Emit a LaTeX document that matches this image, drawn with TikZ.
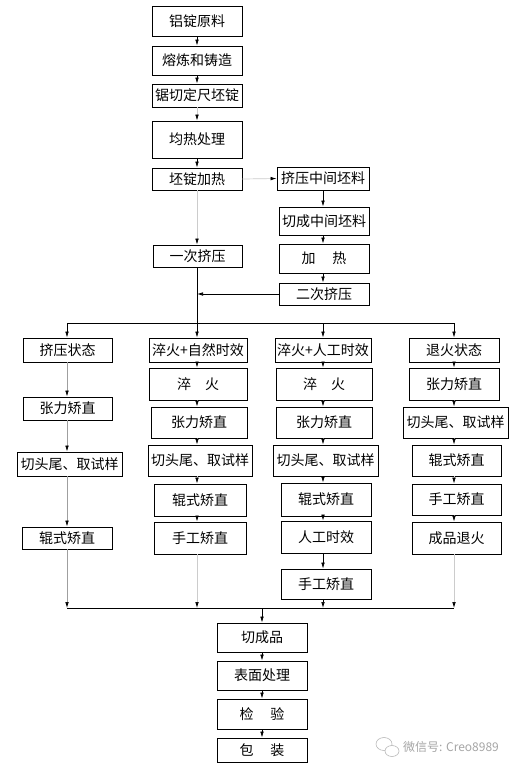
\documentclass[tikz,border=0pt]{standalone}
\usepackage{fontspec}
\setmainfont{Noto Sans CJK SC}
\usetikzlibrary{arrows.meta}
\newcommand\mybox[6]{\node[box, minimum width=#4, minimum height=#5] (#1) at (#2,#3) {#6};}
\begin{document}
\begin{tikzpicture}[x=1pt,y=-1pt,
  box/.style={draw=black, line width=0.8pt, inner sep=0pt, font=\fontsize{14}{16}\selectfont, text=black},
  arr/.style={line width=0.7pt, -{Latex[length=6pt,width=3.6pt,color=black]}},
  ln/.style={line width=0.7pt},
  faint/.style={draw=gray!40},
  mid/.style={draw=gray!75},
]
\fill[white] (0,0) rectangle (522,772);
\useasboundingbox (0,0) rectangle (522,772);
% column x coordinates
\coordinate (X1) at (67,0);
\coordinate (X2) at (197,0);
\coordinate (X3) at (323,0);
\coordinate (X4) at (454,0);
\coordinate (XB) at (262,0);
% top column
\mybox{a}{197}{21}{90}{30}{铝锭原料}
\mybox{b}{197}{60.5}{90}{29}{熔炼和铸造}
\mybox{c}{197}{95.5}{90}{23}{锯切定尺坯锭}
\mybox{d}{197}{139.5}{90}{37}{均热处理}
\mybox{e}{197}{179}{90}{22}{坯锭加热}
\mybox{f}{323}{178.5}{92}{23}{挤压中间坯料}
\mybox{g}{324}{221}{90}{28}{切成中间坯料}
\mybox{h}{324}{258.5}{90}{29}{加\hspace{1.2em}热}
\mybox{i}{324}{294}{90}{22}{二次挤压}
\mybox{j}{197.5}{256}{89}{22}{一次挤压}
% column 1
\mybox{k1}{67.5}{350}{89}{24}{挤压状态}
\mybox{k2}{67.5}{408.5}{89}{23}{张力矫直}
\mybox{k3}{69.5}{464}{105}{24}{切头尾、取试样}
\mybox{k4}{67}{538}{90}{22}{辊式矫直}
% column 2
\mybox{l1}{198}{350}{98}{24}{淬火+自然时效}
\mybox{l2}{198}{384}{98}{32}{淬\hspace{1em}火}
\mybox{l3}{199}{422.5}{96}{31}{张力矫直}
\mybox{l4}{200}{460.5}{104}{31}{切头尾、取试样}
\mybox{l5}{200}{500}{92}{32}{辊式矫直}
\mybox{l6}{200}{538}{92}{32}{手工矫直}
% column 3
\mybox{m1}{323}{350}{96}{24}{淬火+人工时效}
\mybox{m2}{324}{384}{96}{32}{淬\hspace{1em}火}
\mybox{m3}{324}{422.5}{96}{31}{张力矫直}
\mybox{m4}{325.5}{460.5}{105}{31}{切头尾、取试样}
\mybox{m5}{326}{499.5}{90}{33}{辊式矫直}
\mybox{m6}{326}{537}{90}{32}{人工时效}
\mybox{m7}{326}{584}{90}{30}{手工矫直}
% column 4
\mybox{n1}{454}{350}{90}{24}{退火状态}
\mybox{n2}{454}{384}{90}{32}{张力矫直}
\mybox{n3}{455.5}{422.5}{105}{31}{切头尾、取试样}
\mybox{n4}{456.5}{460.5}{89}{31}{辊式矫直}
\mybox{n5}{456.5}{499.5}{89}{31}{手工矫直}
\mybox{n6}{456.5}{538}{89}{32}{成品退火}
% bottom
\mybox{o1}{262}{637.5}{90}{29}{切成品}
\mybox{o2}{262}{675.5}{90}{29}{表面处理}
\mybox{o3}{262}{714}{90}{30}{检\hspace{1.2em}验}
\mybox{o4}{262}{750}{90}{24}{包\hspace{1.2em}装}
% junction coordinates
\coordinate (J2) at (197,294);
\coordinate (BR) at (197,323);
\coordinate (BL) at (67,323);
\coordinate (BRR) at (454,323);
\coordinate (ML) at (67,608);
\coordinate (MR) at (454,608);
% top connectors
\draw[arr] (a.south -| X2) -- (b.north -| X2);
\draw[arr] (b.south -| X2) -- (c.north -| X2);
\draw[arr,faint] (c.south -| X2) -- (d.north -| X2);
\draw[arr] (d.south -| X2) -- (e.north -| X2);
\draw[arr,faint] (e.south -| X2) -- (j.north -| X2);
\draw[arr,faint] (e.east) -- (f.west);
\draw[arr] (f.south -| X3) -- (g.north -| X3);
\draw[arr] (g.south -| X3) -- (h.north -| X3);
\draw[arr] (h.south -| X3) -- (i.north -| X3);
\draw[arr] (i.west) -- (J2);
\draw[ln] (j.south -| X2) -- (BR);
\draw[ln] (BL) -- (BRR);
% branch arrows
\draw[arr] (BL) -- (k1.north -| X1);
\draw[arr] (BR) -- (l1.north -| X2);
\draw[arr] (BR -| X3) -- (m1.north -| X3);
\draw[arr] (BRR) -- (n1.north -| X4);
% column 1
\draw[arr,mid] (k1.south -| X1) -- (k2.north -| X1);
\draw[arr,mid] (k2.south -| X1) -- (k3.north -| X1);
\draw[arr,mid] (k3.south -| X1) -- (k4.north -| X1);
\draw[arr,mid] (k4.south -| X1) -- (ML);
% column 2
\draw[arr,faint] (l1.south -| X2) -- (l2.north -| X2);
\draw[arr,faint] (l2.south -| X2) -- (l3.north -| X2);
\draw[arr,faint] (l3.south -| X2) -- (l4.north -| X2);
\draw[arr,faint] (l4.south -| X2) -- (l5.north -| X2);
\draw[arr,faint] (l5.south -| X2) -- (l6.north -| X2);
\draw[arr,faint] (l6.south -| X2) -- (ML -| X2);
% column 3
\draw[arr,mid] (m1.south -| X3) -- (m2.north -| X3);
\draw[arr,mid] (m2.south -| X3) -- (m3.north -| X3);
\draw[arr,mid] (m3.south -| X3) -- (m4.north -| X3);
\draw[arr] (m4.south -| X3) -- (m5.north -| X3);
\draw[arr] (m5.south -| X3) -- (m6.north -| X3);
\draw[arr] (m6.south -| X3) -- (m7.north -| X3);
\draw[arr] (m7.south -| X3) -- (ML -| X3);
% column 4
\draw[arr,faint] (n1.south -| X4) -- (n2.north -| X4);
\draw[arr,faint] (n2.south -| X4) -- (n3.north -| X4);
\draw[arr,faint] (n3.south -| X4) -- (n4.north -| X4);
\draw[arr,faint] (n4.south -| X4) -- (n5.north -| X4);
\draw[arr,faint] (n5.south -| X4) -- (n6.north -| X4);
\draw[arr,faint] (n6.south -| X4) -- (MR);
% merge
\draw[ln] (ML) -- (MR);
\draw[arr] (ML -| XB) -- (o1.north -| XB);
\draw[arr] (o1.south -| XB) -- (o2.north -| XB);
\draw[arr] (o2.south -| XB) -- (o3.north -| XB);
\draw[arr] (o3.south -| XB) -- (o4.north -| XB);
% watermark
\draw[gray!55, line width=0.6pt] (384,744) circle[x radius=8, y radius=6.5];
\draw[gray!55, line width=0.6pt, fill=white] (392,751) circle[x radius=7, y radius=5.5];
\node[text=gray!70, font=\fontsize{12}{14}\selectfont, anchor=west, inner sep=0pt] (wm) at (403,747) {微信号: Creo8989};
\end{tikzpicture}
\end{document}
